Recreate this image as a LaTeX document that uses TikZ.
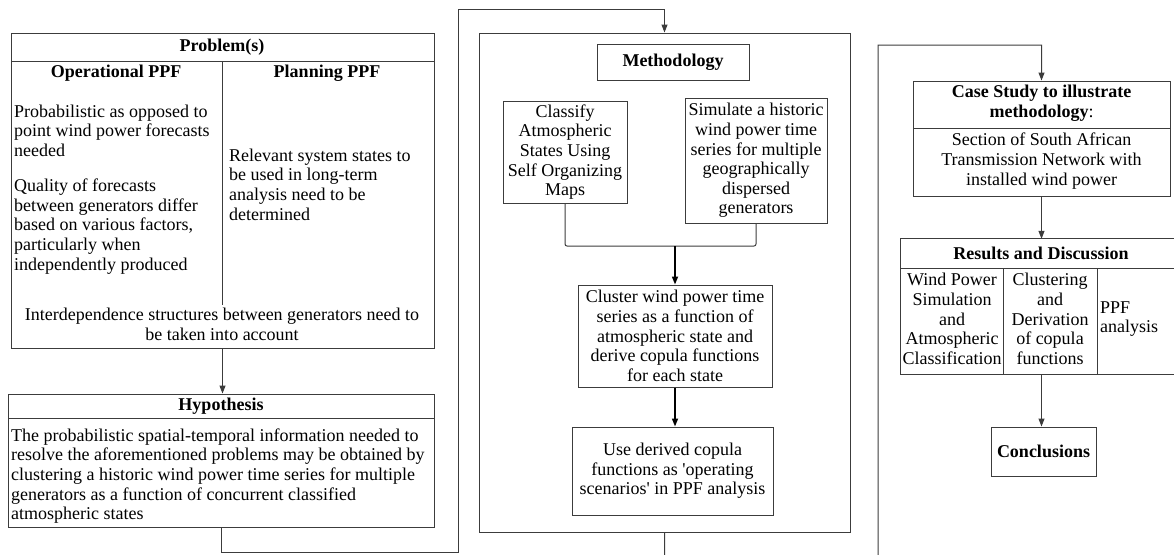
\documentclass[tikz,border=0pt]{standalone}
\usepackage{fontspec}
\setmainfont{Liberation Serif}
\usetikzlibrary{arrows.meta,calc}
\definecolor{linec}{RGB}{60,60,60}
\newcommand\bodyfont{\fontsize{18}{19.6}\selectfont}
\begin{document}
\begin{tikzpicture}[x=1pt,y=-1pt,
  box/.style={draw=linec, line width=1pt, inner sep=0pt},
  txt/.style={font=\bodyfont, align=center, inner sep=0pt, text=black},
  btxt/.style={font=\bodyfont\bfseries, align=center, inner sep=0pt, text=black},
  ltxt/.style={font=\bodyfont, align=left, inner sep=0pt, anchor=west, text=black},
  line/.style={draw=linec, line width=1pt},
  arr/.style={draw=linec, line width=1pt, -{Triangle[width=6pt,length=8pt]}},
  arrthick/.style={draw=black, line width=1.6pt, -{Triangle[width=6pt,length=8pt]}}]
\useasboundingbox (0,0) rectangle (1174,554);
\fill[white] (0,0) rectangle (1174,554);
\clip (0,0) rectangle (1174,554);

% ---------- Problem(s)
\node[box, minimum width=423pt, minimum height=315pt] (prob) at (222.5,190.5) {};
\draw[line] (11,61) -- (434,61);
\draw[line] (222,61) -- (222,305);
\node[btxt] (probT) at (222,47) {Problem(s)};
\node[btxt] (opT) at (116,73) {Operational PPF};
\node[btxt] (plT) at (327,73) {Planning PPF};
\node[ltxt] (op1) at (14,130.5) {Probabilistic as opposed to\\point wind power forecasts\\needed};
\node[ltxt] (op2) at (14,226.5) {Quality of forecasts\\between generators differ\\based on various factors,\\particularly when\\independently produced};
\node[ltxt] (pl1) at (229,184.5) {Relevant system states to\\be used in long-term\\analysis need to be\\determined};
\node[txt] (inter) at (222,324.5) {Interdependence structures between generators need to\\be taken into account};

% ---------- Hypothesis
\node[box, minimum width=426pt, minimum height=133pt] (hyp) at (221,460.5) {};
\draw[line] (8,418) -- (434,418);
\node[btxt] (hypT) at (221,406) {Hypothesis};
\node[ltxt] (hypB) at (11,476) {The probabilistic spatial-temporal information needed to\\resolve the aforementioned problems may be obtained by\\clustering a historic wind power time series for multiple\\generators as a function of concurrent classified\\atmospheric states};

% ---------- Methodology
\node[box, minimum width=371pt, minimum height=499pt] (methout) at (664.5,282.5) {};
\node[box, btxt, minimum width=152pt, minimum height=36pt] (methT) at (673,62) {Methodology};
\node[box, txt, minimum width=124pt, minimum height=102pt] (classify) at (565,152) {Classify\\Atmospheric\\States Using\\Self Organizing\\Maps};
\node[box, txt, minimum width=142pt, minimum height=125pt] (simulate) at (756,160.5) {Simulate a historic\\wind power time\\series for multiple\\geographically\\dispersed\\generators};
\node[box, txt, minimum width=194pt, minimum height=102pt] (cluster) at (675,336) {Cluster wind power time\\series as a function of\\atmospheric state and\\derive copula functions\\for each state};
\node[box, txt, minimum width=201pt, minimum height=88pt] (use) at (672.5,471) {Use derived copula\\functions as \textquotesingle operating\\scenarios\textquotesingle{} in PPF analysis};

\coordinate (mj) at (675,246);
\draw[line, rounded corners=2pt] (classify.south) |- (mj) -| (simulate.south);
\draw[arrthick] (mj) -- (cluster.north);
\draw[arrthick] (cluster.south) -- (cluster.south |- use.north);

% ---------- Case study
\node[box, minimum width=257pt, minimum height=115pt] (case) at (1041.5,138.5) {};
\draw[line] (913,128) -- (1170,128);
\node[btxt] (caseT) at (1041.5,103.5) {Case Study to illustrate\\methodology{\mdseries :}};
\node[txt] (caseB) at (1041.5,161) {Section of South African\\Transmission Network with\\installed wind power};

% ---------- Results
\node[minimum width=273pt, minimum height=135pt, inner sep=0pt] (res) at (1037.5,306.5) {};
\draw[line] (res.north east) -- (res.north west) -- (res.south west) -- (res.south east);
\draw[line] (901,268) -- (1174,268);
\draw[line] (1003,268) -- (1003,374);
\draw[line] (1097,268) -- (1097,374);
\node[btxt] (resT) at (1041,253) {Results and Discussion};
\node[txt] (col1) at (952,319) {Wind Power\\Simulation\\and\\Atmospheric\\Classification};
\node[txt] (col2) at (1050,319) {Clustering\\and\\Derivation\\of copula\\functions};
\node[ltxt] (col3) at (1100,319) {PPF\\analysis};

\node[box, btxt, minimum width=105pt, minimum height=49pt] (conc) at (1043.5,451.5) {Conclusions};

% ---------- Connectors
\draw[arr] (prob.south) -- (prob.south |- hyp.north);
\coordinate (hb) at (221,552);
\coordinate (ht) at (458,9);
\draw[arr] (hyp.south) -- (hb) -| (ht) -| (methout.north);
\coordinate (mb) at (665,580);
\coordinate (ct) at (878,45);
\draw[arr] (methout.south) -- (mb) -| (ct) -| (case.north);
\draw[arr] (case.south) -- (case.south |- res.north);
\draw[arr] (case.south |- res.south) -- (case.south |- conc.north);
\end{tikzpicture}
\end{document}
